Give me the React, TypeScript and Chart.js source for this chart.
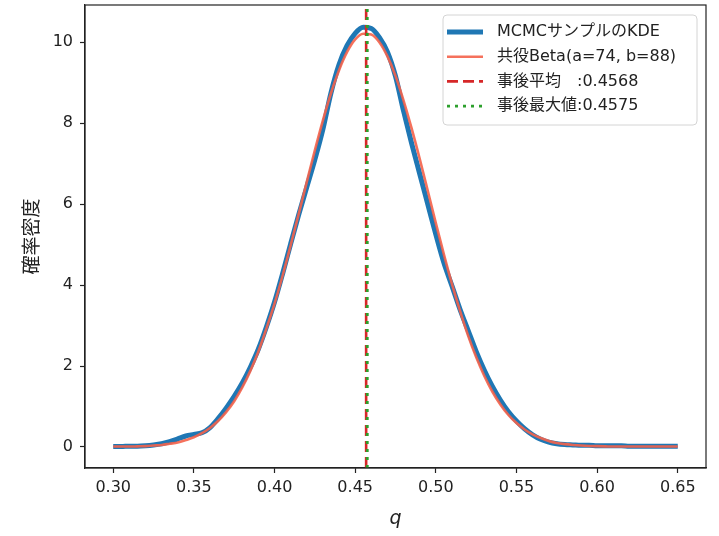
import React, { useEffect, useRef } from "react";
import { Chart, registerables } from "chart.js";

Chart.register(...registerables);

// q grid on which both densities were evaluated
const qGrid = [
  0.300, 0.305, 0.310, 0.315, 0.320, 0.325, 0.330, 0.335, 0.340, 0.345,
  0.350, 0.355, 0.360, 0.365, 0.370, 0.375, 0.380, 0.385, 0.390, 0.395,
  0.400, 0.405, 0.410, 0.415, 0.420, 0.425, 0.430, 0.435, 0.440, 0.445,
  0.450, 0.455, 0.460, 0.465, 0.470, 0.475, 0.480, 0.485, 0.490, 0.495,
  0.500, 0.505, 0.510, 0.515, 0.520, 0.525, 0.530, 0.535, 0.540, 0.545,
  0.550, 0.555, 0.560, 0.565, 0.570, 0.575, 0.580, 0.585, 0.590, 0.595,
  0.600, 0.605, 0.610, 0.615, 0.620, 0.625, 0.630, 0.635, 0.640, 0.645,
  0.650,
];

// KDE of MCMC samples
const kdeDensity = [
  0.01, 0.01, 0.02, 0.02, 0.03, 0.05, 0.08, 0.13, 0.20, 0.27,
  0.31, 0.35, 0.48, 0.70, 0.96, 1.25, 1.58, 1.97, 2.42, 2.97,
  3.58, 4.28, 5.02, 5.74, 6.42, 7.10, 7.85, 8.75, 9.45, 9.92,
  10.22, 10.37, 10.34, 10.12, 9.76, 9.16, 8.30, 7.50, 6.75, 6.00,
  5.25, 4.55, 3.98, 3.40, 2.88, 2.36, 1.90, 1.50, 1.16, 0.87,
  0.64, 0.45, 0.30, 0.19, 0.12, 0.08, 0.06, 0.05, 0.04, 0.04,
  0.03, 0.03, 0.03, 0.03, 0.02, 0.02, 0.02, 0.02, 0.02, 0.02,
  0.02,
];

// Conjugate Beta(a=74, b=88) density
const betaDensity = [
  0.01, 0.01, 0.01, 0.015, 0.02, 0.035, 0.05, 0.08, 0.11, 0.17,
  0.24, 0.34, 0.47, 0.64, 0.86, 1.13, 1.47, 1.88, 2.36, 2.93,
  3.54, 4.23, 4.98, 5.76, 6.55, 7.33, 8.07, 8.74, 9.31, 9.76,
  10.07, 10.21, 10.19, 10.00, 9.65, 9.17, 8.56, 7.87, 7.12, 6.33,
  5.53, 4.76, 4.03, 3.36, 2.75, 2.22, 1.76, 1.37, 1.05, 0.79,
  0.59, 0.43, 0.31, 0.22, 0.15, 0.10, 0.07, 0.05, 0.035, 0.025,
  0.02, 0.015, 0.01, 0.01, 0.01, 0.01, 0.01, 0.01, 0.01, 0.01,
  0.01,
];

const posteriorMean = 0.4568;
const posteriorMode = 0.4575;

const xTicks = [0.30, 0.35, 0.40, 0.45, 0.50, 0.55, 0.60, 0.65];
const yTicks = [0, 2, 4, 6, 8, 10];
const xRange = [0.2825, 0.6675];
const yRange = [-0.52, 10.92];

const seriesLabels = [
  "MCMCサンプルのKDE",
  "共役Beta(a=74, b=88)",
  "事後平均　:0.4568",
  "事後最大値:0.4575",
];
const xTitle = "q";
const yTitle = "確率密度";

const FONT = "'DejaVu Sans', 'Noto Sans CJK JP', sans-serif";
const CJK = "'Noto Sans CJK JP', 'DejaVu Sans', sans-serif";
const INK = "#222222";

export default function App() {
  const ref = useRef<HTMLCanvasElement>(null);

  useEffect(() => {
    const canvas = ref.current;
    if (!canvas) return;

    const pts = (ys: number[]) => qGrid.map((q, i) => ({ x: q, y: ys[i] }));
    const vline = (x: number) => [
      { x, y: yRange[0] },
      { x, y: yRange[1] },
    ];

    const framePlugin = {
      id: "frame",
      afterDatasetsDraw(chart: any) {
        const { ctx, chartArea: a } = chart;
        ctx.save();
        ctx.strokeStyle = INK;
        ctx.lineWidth = 1.2;
        ctx.strokeRect(a.left, a.top, a.right - a.left, a.bottom - a.top);
        ctx.restore();
      },
    };

    const legendPlugin = {
      id: "mplLegend",
      afterDraw(chart: any) {
        const { ctx, chartArea: a } = chart;
        const w = 254;
        const h = 110;
        const x = a.right - 9 - w;
        const y = a.top + 10;
        ctx.save();
        ctx.beginPath();
        (ctx as any).roundRect(x, y, w, h, 4);
        ctx.fillStyle = "rgba(255,255,255,0.85)";
        ctx.fill();
        ctx.strokeStyle = "#d4d4d4";
        ctx.lineWidth = 1;
        ctx.stroke();
        const ds = chart.data.datasets;
        ds.forEach((d: any, i: number) => {
          const cy = y + 17 + i * 24.7;
          ctx.beginPath();
          ctx.setLineDash(d.borderDash || []);
          ctx.strokeStyle = d.borderColor;
          ctx.lineWidth = d.borderWidth;
          ctx.lineCap = "butt";
          ctx.moveTo(x + 4, cy);
          ctx.lineTo(x + 40, cy);
          ctx.stroke();
          ctx.setLineDash([]);
          ctx.fillStyle = INK;
          ctx.font = `16px ${FONT}`;
          ctx.textBaseline = "middle";
          ctx.textAlign = "left";
          ctx.fillText(d.label, x + 54, cy);
        });
        ctx.restore();
      },
    };

    const chart = new Chart(canvas, {
      type: "line",
      data: {
        datasets: [
          {
            label: seriesLabels[0],
            data: pts(kdeDensity),
            borderColor: "#1f77b4",
            borderWidth: 5,
            pointRadius: 0,
            cubicInterpolationMode: "monotone",
            order: 4,
          },
          {
            label: seriesLabels[1],
            data: pts(betaDensity),
            borderColor: "rgba(244,98,74,0.9)",
            borderWidth: 2.6,
            pointRadius: 0,
            cubicInterpolationMode: "monotone",
            order: 3,
          },
          {
            label: seriesLabels[2],
            data: vline(posteriorMean),
            borderColor: "#d62728",
            borderWidth: 2.6,
            borderDash: [11, 5],
            pointRadius: 0,
            order: 2,
          },
          {
            label: seriesLabels[3],
            data: vline(posteriorMode),
            borderColor: "#2ca02c",
            borderWidth: 2.8,
            borderDash: [3, 5],
            pointRadius: 0,
            order: 1,
          },
        ] as any,
      },
      options: {
        responsive: false,
        animation: false,
        events: [],
        devicePixelRatio: 1,
        layout: { padding: { left: 0, top: 5, right: 13, bottom: 0 } },
        plugins: {
          legend: { display: false },
          tooltip: { enabled: false },
        },
        scales: {
          x: {
            type: "linear",
            min: xRange[0],
            max: xRange[1],
            afterBuildTicks: (s: any) => {
              s.ticks = xTicks.map((v) => ({ value: v }));
            },
            afterFit: (s: any) => {
              s.height = 68;
              s.paddingLeft = 0;
              s.paddingRight = 0;
            },
            ticks: {
              color: INK,
              font: { family: FONT, size: 16 },
              padding: 5,
              maxRotation: 0,
              autoSkip: false,
              callback: (v: any) => Number(v).toFixed(2),
            },
            grid: {
              display: true,
              drawOnChartArea: false,
              drawTicks: true,
              tickLength: 5,
              tickWidth: 1.2,
              tickColor: INK,
            },
            border: { display: true, color: INK, width: 1.2 },
            title: {
              display: true,
              text: xTitle,
              color: INK,
              font: { family: "'DejaVu Sans', sans-serif", size: 19, style: "italic" },
              padding: { top: 0, bottom: 6 },
            },
          },
          y: {
            type: "linear",
            min: yRange[0],
            max: yRange[1],
            afterBuildTicks: (s: any) => {
              s.ticks = yTicks.map((v) => ({ value: v }));
            },
            afterFit: (s: any) => {
              s.width = 85;
              s.paddingTop = 0;
              s.paddingBottom = 0;
            },
            ticks: {
              color: INK,
              font: { family: FONT, size: 16 },
              padding: 7,
              autoSkip: false,
              callback: (v: any) => String(v),
            },
            grid: {
              display: true,
              drawOnChartArea: false,
              drawTicks: true,
              tickLength: 5,
              tickWidth: 1.2,
              tickColor: INK,
            },
            border: { display: true, color: INK, width: 1.2 },
            title: {
              display: true,
              text: yTitle,
              color: INK,
              font: { family: CJK, size: 19 },
              padding: { top: 19, bottom: 0 },
            },
          },
        },
      } as any,
      plugins: [framePlugin, legendPlugin],
    });

    return () => chart.destroy();
  }, []);

  return (
    <div
      style={{
        position: "fixed",
        left: 0,
        top: 0,
        width: 719,
        height: 536,
        background: "#ffffff",
      }}
    >
      <canvas ref={ref} width={719} height={536} style={{ width: 719, height: 536, display: "block" }} />
    </div>
  );
}
